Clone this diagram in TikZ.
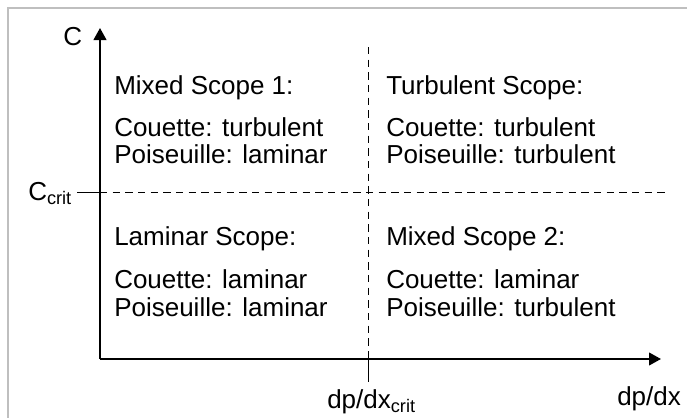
\documentclass[tikz,border=0pt]{standalone}
\usepackage{fontspec}
\setmainfont{Liberation Sans}
\usetikzlibrary{arrows.meta}
\begin{document}
\begin{tikzpicture}[x=0.75pt,y=-0.75pt,
  lbl/.style={anchor=base west,inner sep=0pt,font=\fontsize{19.5}{23}\selectfont},
  axis/.style={line width=1.5pt,-{Triangle[length=9pt,width=9.5pt]}},
  dsh/.style={line width=0.75pt,dash pattern=on 5.5pt off 4pt},
  tick/.style={line width=0.75pt},
  frame/.style={draw=black!25,line width=0.9pt}]
\useasboundingbox (0,0) rectangle (687,418);
\draw[frame] (8,418) -- (8,8) -- (687,8);
% coordinates
\coordinate (O) at (100,359);
\coordinate (ytip) at (100,28);
\coordinate (xtip) at (661,359);
\coordinate (cl) at (77,192);
\coordinate (cy) at (100,192);
\coordinate (cr) at (666,192);
\coordinate (vt) at (368,47);
\coordinate (vx) at (368,359);
\coordinate (vb) at (368,382);
% axes
\draw[axis] (O) -- (ytip);
\draw[axis] (O) -- (xtip);
% ticks and dashed lines
\draw[tick] (cl) -- (cy);
\draw[dsh] (cy) -- (cr);
\draw[dsh] (vt) -- (vx);
\draw[tick] (vx) -- (vb);
% axis labels
\node[lbl] (lc) at (63,45) {C};
\node[lbl] (lccrit) at (28,200) {C\textsubscript{crit}};
\node[lbl] (ldp) at (617,405) {dp/dx};
\node[lbl] (ldpcrit) at (327,408) {dp/dx\textsubscript{crit}};
% quadrant texts
\node[lbl] (a1) at (114,94) {Mixed Scope 1:};
\node[lbl] (a2) at (114,136) {Couette: turbulent};
\node[lbl] (a3) at (114,163) {Poiseuille: laminar};
\node[lbl] (b1) at (386,94) {Turbulent Scope:};
\node[lbl] (b2) at (386,136) {Couette: turbulent};
\node[lbl] (b3) at (386,163) {Poiseuille: turbulent};
\node[lbl] (c1) at (114,245) {Laminar Scope:};
\node[lbl] (c2) at (114,288) {Couette: laminar};
\node[lbl] (c3) at (114,316) {Poiseuille: laminar};
\node[lbl] (d1) at (386,245) {Mixed Scope 2:};
\node[lbl] (d2) at (386,288) {Couette: laminar};
\node[lbl] (d3) at (386,316) {Poiseuille: turbulent};
\end{tikzpicture}
\end{document}
